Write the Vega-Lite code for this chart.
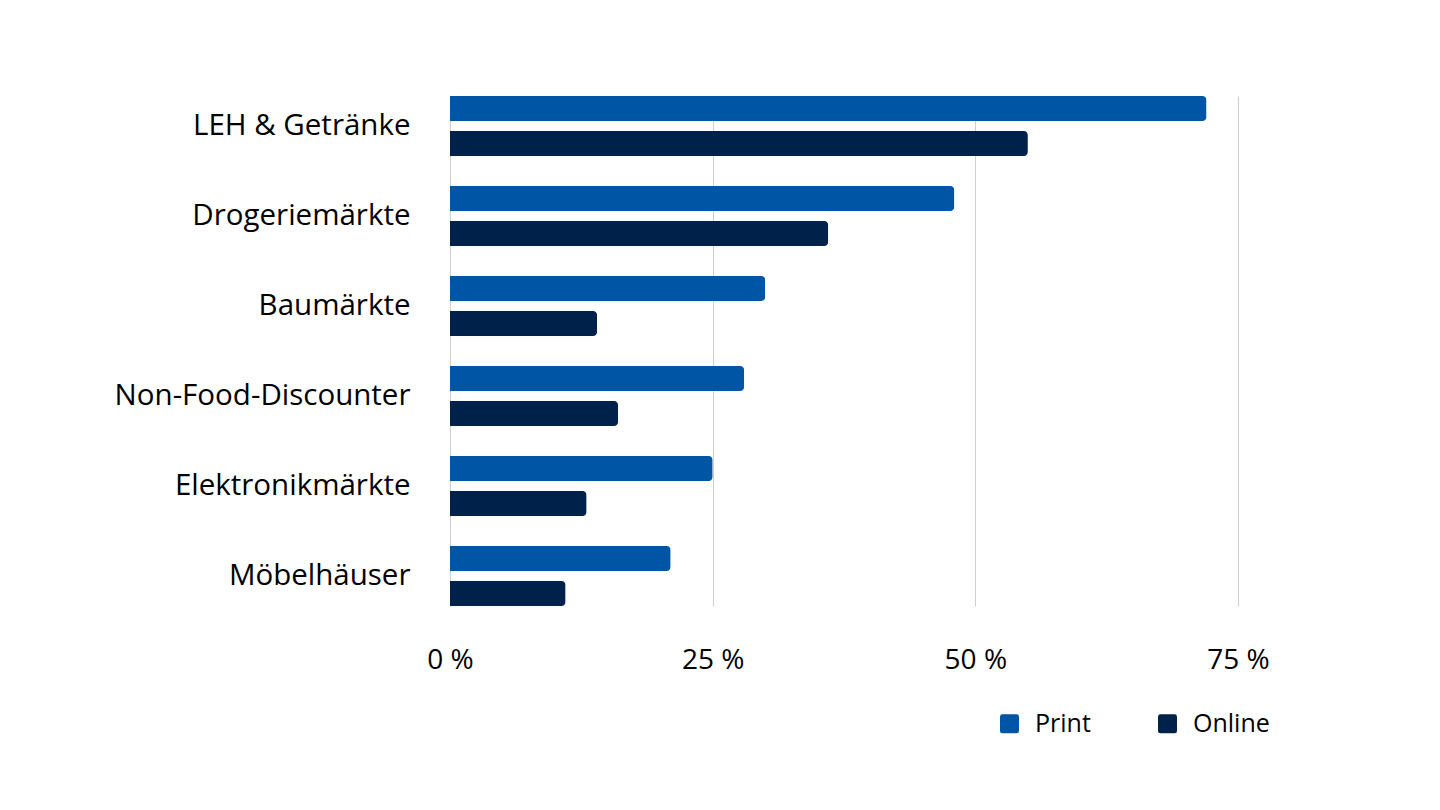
{
  "$schema": "https://vega.github.io/schema/vega-lite/v6.json",
  "width": 788,
  "height": 510,
  "autosize": {"type": "none"},
  "padding": {"left": 450, "top": 96, "right": 202, "bottom": 204},
  "background": "white",
  "config": {
    "view": {"stroke": null},
    "font": "Open Sans"
  },
  "data": {
    "values": [
      {"kategorie": "LEH & Getränke", "medium": "Print", "wert": 72},
      {"kategorie": "LEH & Getränke", "medium": "Online", "wert": 55},
      {"kategorie": "Drogeriemärkte", "medium": "Print", "wert": 48},
      {"kategorie": "Drogeriemärkte", "medium": "Online", "wert": 36},
      {"kategorie": "Baumärkte", "medium": "Print", "wert": 30},
      {"kategorie": "Baumärkte", "medium": "Online", "wert": 14},
      {"kategorie": "Non-Food-Discounter", "medium": "Print", "wert": 28},
      {"kategorie": "Non-Food-Discounter", "medium": "Online", "wert": 16},
      {"kategorie": "Elektronikmärkte", "medium": "Print", "wert": 25},
      {"kategorie": "Elektronikmärkte", "medium": "Online", "wert": 13},
      {"kategorie": "Möbelhäuser", "medium": "Print", "wert": 21},
      {"kategorie": "Möbelhäuser", "medium": "Online", "wert": 11}
    ]
  },
  "mark": {"type": "bar", "cornerRadiusEnd": 4},
  "encoding": {
    "y": {
      "field": "kategorie",
      "type": "nominal",
      "sort": null,
      "scale": {"paddingInner": 0.3333, "paddingOuter": 0},
      "axis": {
        "title": null,
        "domain": false,
        "ticks": false,
        "labelFontSize": 29.5,
        "labelColor": "#000000",
        "labelPadding": 40,
        "labelLimit": 0
      }
    },
    "yOffset": {
      "field": "medium",
      "type": "nominal",
      "sort": ["Print", "Online"],
      "scale": {"paddingInner": 0.2857, "paddingOuter": 0}
    },
    "x": {
      "field": "wert",
      "type": "quantitative",
      "scale": {"domain": [0, 75], "nice": false},
      "axis": {
        "title": null,
        "values": [0, 25, 50, 75],
        "labelExpr": "datum.value + ' %'",
        "domain": false,
        "ticks": false,
        "grid": true,
        "gridColor": "#cfcfcf",
        "gridWidth": 1,
        "labelFontSize": 28,
        "labelColor": "#000000",
        "labelPadding": 40,
        "labelFlush": false
      }
    },
    "color": {
      "field": "medium",
      "type": "nominal",
      "scale": {"domain": ["Print", "Online"], "range": ["#0055A5", "#00224A"]},
      "legend": {
        "title": null,
        "orient": "none",
        "direction": "horizontal",
        "legendX": 547,
        "legendY": 615,
        "symbolType": "M-0.75,-1H0.75Q1,-1 1,-0.75V0.75Q1,1 0.75,1H-0.75Q-1,1 -1,0.75V-0.75Q-1,-1 -0.75,-1Z",
        "symbolSize": 361,
        "symbolStrokeWidth": 0,
        "labelFontSize": 25,
        "labelColor": "#000000",
        "labelOffset": 13,
        "columnPadding": 64
      }
    }
  }
}
